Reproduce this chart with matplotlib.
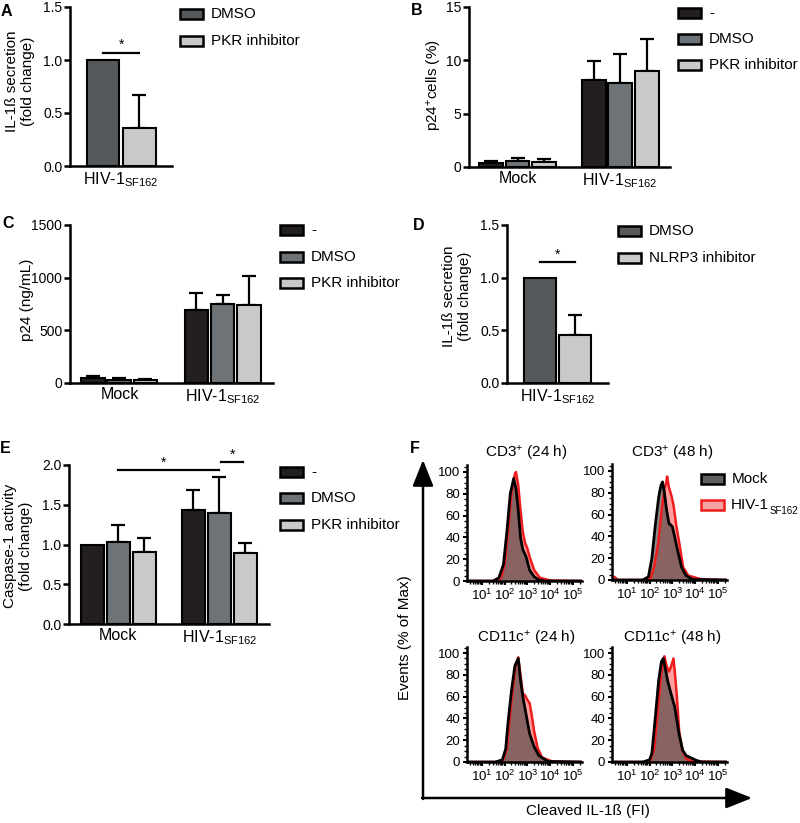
import matplotlib
matplotlib.use('Agg')
import matplotlib.pyplot as plt
from matplotlib.patches import Rectangle
import numpy as np

plt.rcParams['font.family'] = ['Liberation Sans', 'DejaVu Sans']
plt.rcParams['mathtext.default'] = 'regular'
plt.rcParams['axes.linewidth'] = 1.8

W, H = 800, 823
HIV = r'HIV-1$_{SF162}$'

# colours
C_NONE = '#231f20'
C_DMSO = '#6d7376'
C_DMSO_DARK = '#55595b'
C_INH = '#c8caca'

# A: IL-1ß secretion, PKR inhibitor
a_labels = ['DMSO', 'PKR inhibitor']
a_mean = [1.0, 0.36]
a_sd = [0.0, 0.31]

# B: p24+ cells (%)
b_labels = ['-', 'DMSO', 'PKR inhibitor']
b_groups = ['Mock', HIV]
b_mean = [[0.38, 8.15], [0.56, 7.84], [0.47, 9.03]]
b_sd = [[0.18, 1.75], [0.24, 2.76], [0.28, 2.97]]

# C: p24 (ng/mL)
c_labels = ['-', 'DMSO', 'PKR inhibitor']
c_groups = ['Mock', HIV]
c_mean = [[48, 691], [32, 748], [32, 739]]
c_sd = [[19, 165], [12, 92], [9, 276]]

# D: IL-1ß secretion, NLRP3 inhibitor
d_labels = ['DMSO', 'NLRP3 inhibitor']
d_mean = [1.0, 0.46]
d_sd = [0.0, 0.19]

# E: caspase-1 activity
e_labels = ['-', 'DMSO', 'PKR inhibitor']
e_groups = ['Mock', HIV]
e_mean = [[1.0, 1.43], [1.03, 1.39], [0.91, 0.89]]
e_sd = [[0.0, 0.25], [0.22, 0.46], [0.17, 0.13]]

# F: histograms, x = log10 fluorescence, y = % of max
f_titles = ['CD3$^{+}$ (24 h)', 'CD3$^{+}$ (48 h)', 'CD11c$^{+}$ (24 h)', 'CD11c$^{+}$ (48 h)']
f_mock_x = [
    [0.4, 1.5, 1.75, 1.95, 2.1, 2.25, 2.4, 2.5, 2.6, 2.7, 2.8, 2.95, 3.1, 3.3, 3.5, 3.8, 5.4],
    [0.3, 1.7, 1.95, 2.1, 2.25, 2.4, 2.5, 2.57, 2.65, 2.75, 2.85, 3.0, 3.1, 3.2, 3.4, 3.6, 3.9, 5.5],
    [0.4, 1.6, 1.9, 2.05, 2.15, 2.3, 2.45, 2.6, 2.7, 2.8, 2.95, 3.1, 3.3, 3.5, 3.9, 5.4],
    [0.3, 1.7, 2.0, 2.1, 2.23, 2.4, 2.52, 2.6, 2.7, 2.8, 2.95, 3.1, 3.2, 3.3, 3.45, 3.6, 3.8, 4.05, 4.3, 5.5],
]
f_mock_y = [
    [0, 0, 3, 15, 45, 80, 94, 85, 65, 40, 29, 22, 10, 4, 1, 0, 0],
    [0, 0, 3, 20, 50, 76, 87, 90, 80, 64, 52, 49, 40, 30, 12, 4, 0.5, 0],
    [0, 0, 2, 12, 36, 65, 88, 95, 75, 60, 43, 26, 14, 6, 0.5, 0],
    [0, 0, 2, 8, 36, 75, 92, 95, 85, 74, 62, 51, 38, 25, 11, 6, 4, 1.5, 0, 0],
]
f_hiv_x = [
    [0.4, 1.6, 1.85, 2.0, 2.15, 2.3, 2.45, 2.5, 2.6, 2.7, 2.8, 2.9, 3.0, 3.1, 3.3, 3.55, 4.0, 5.4],
    [0.3, 0.45, 0.6, 1.8, 2.05, 2.2, 2.38, 2.53, 2.65, 2.72, 2.77, 2.85, 2.95, 3.05, 3.18, 3.33, 3.47, 3.7, 4.3, 5.45, 5.5],
    [0.4, 1.7, 1.95, 2.1, 2.2, 2.35, 2.5, 2.6, 2.7, 2.8, 2.9, 3.0, 3.1, 3.2, 3.3, 3.45, 3.65, 4.1, 5.4],
    [0.3, 1.8, 2.05, 2.2, 2.35, 2.5, 2.6, 2.65, 2.75, 2.85, 2.95, 3.05, 3.12, 3.2, 3.3, 3.45, 3.62, 3.85, 5.5],
]
f_hiv_y = [
    [0, 0, 3, 15, 45, 80, 98, 100, 88, 65, 45, 35, 30, 22, 10, 3, 0.5, 0],
    [0, 3, 0, 0, 2, 12, 34, 64, 84, 88, 95, 85, 78, 69, 49, 31, 12, 4, 0.5, 0, 1],
    [0, 0, 2, 12, 35, 65, 90, 96, 80, 63, 61, 57, 54, 42, 28, 13, 4, 0.5, 0],
    [0, 0, 2, 12, 45, 80, 93, 97, 88, 83, 88, 95, 80, 60, 28, 10, 3, 0.5, 0],
]

fig = plt.figure(figsize=(8, 8.23), dpi=100)


def add_ax(x0, y0, x1, y1):
    return fig.add_axes([x0 / W, 1 - y1 / H, (x1 - x0) / W, (y1 - y0) / H])


def bar_panel(box, means, sds, colors, centers, groups, width, xlim, yticks, ylabels):
    ax = add_ax(*box)
    n = len(means)
    for i in range(n):
        xs = np.array(centers) + (i - (n - 1) / 2)
        m = np.array(means[i], dtype=float)
        s = np.array(sds[i], dtype=float)
        ax.bar(xs, m, width=width, color=colors[i], edgecolor='k', linewidth=1.5, zorder=2)
        keep = s > 0
        if keep.any():
            ax.errorbar(xs[keep], m[keep], yerr=[np.zeros(keep.sum()), s[keep]], fmt='none',
                        ecolor='k', elinewidth=1.6, capsize=5, capthick=1.6, zorder=1)
    ax.spines[['top', 'right']].set_visible(False)
    ax.set_xlim(*xlim)
    ax.set_ylim(yticks[0], yticks[-1])
    ax.set_yticks(yticks)
    ax.set_yticklabels(ylabels, fontsize=10)
    ax.set_xticks(centers)
    ax.set_xticklabels(groups, fontsize=11.5)
    ax.tick_params(axis='y', length=4, width=1.8, pad=1.5)
    ax.tick_params(axis='x', length=0, pad=3)
    return ax


def sig(ax, x0, x1, y, sx, sy):
    ax.plot([x0, x1], [y, y], color='k', lw=1.6, clip_on=False)
    ax.text(sx, sy, '*', ha='center', va='center', fontsize=10)


# A
ax_a = bar_panel((70, 7, 172, 166), [[v] for v in a_mean], [[v] for v in a_sd],
                 [C_DMSO_DARK, C_INH], [0], [HIV], 0.88, (-1.4, 1.39),
                 [0, 0.5, 1.0, 1.5], ['0.0', '0.5', '1.0', '1.5'])
sig(ax_a, -0.5, 0.5, 1.07, 0.0, 1.14)

# B
bar_panel((469, 7, 670, 167), b_mean, b_sd, [C_NONE, C_DMSO, C_INH], [0, 3.87], b_groups,
          0.9, (-1.83, 5.75), [0, 5, 10, 15], ['0', '5', '10', '15'])

# C
bar_panel((70, 225, 273, 383), c_mean, c_sd, [C_NONE, C_DMSO, C_INH], [0, 3.96], c_groups,
          0.92, (-1.9, 5.9), [0, 500, 1000, 1500], ['0', '500', '1000', '1500'])

# D
ax_d = bar_panel((507, 225, 608, 383), [[v] for v in d_mean], [[v] for v in d_sd],
                 [C_DMSO_DARK, C_INH], [0], [HIV], 0.91, (-1.44, 1.44),
                 [0, 0.5, 1.0, 1.5], ['0.0', '0.5', '1.0', '1.5'])
sig(ax_d, -0.5, 0.5, 1.145, 0.0, 1.22)

# E
ax_e = bar_panel((69, 465, 269, 624), e_mean, e_sd, [C_NONE, C_DMSO, C_INH], [0, 3.88], e_groups,
                 0.9, (-1.9, 5.79), [0, 0.5, 1.0, 1.5, 2.0], ['0.0', '0.5', '1.0', '1.5', '2.0'])
sig(ax_e, 0.0, 3.88, 1.94, 1.75, 2.03)
sig(ax_e, 3.93, 4.8, 2.04, 4.37, 2.13)

# F histograms
f_boxes = [(467, 465, 582, 581), (612, 464, 727, 580), (467, 647, 582, 762), (612, 647, 727, 762)]
f_title_pos = [(526, 453), (672, 453), (526, 639), (672, 639)]
minor_x = [d + np.log10(k) for d in range(0, 6) for k in range(2, 10)]
for i, box in enumerate(f_boxes):
    ax = add_ax(*box)
    ax.fill_between(f_hiv_x[i], f_hiv_y[i], color='red', alpha=0.38, lw=0)
    ax.fill_between(f_mock_x[i], f_mock_y[i], color='#3a3a3a', alpha=0.6, lw=0)
    ax.plot(f_hiv_x[i], f_hiv_y[i], color='#ee1c1c', lw=1.8)
    ax.plot(f_mock_x[i], f_mock_y[i], color='k', lw=2)
    ax.spines[['top', 'right']].set_visible(False)
    ax.set_xlim(0.35, 5.4)
    ax.set_ylim(0, (box[3] - box[1]) / 1.09)
    ax.set_yticks(range(0, 101, 20))
    ax.set_yticklabels([str(v) for v in range(0, 101, 20)], fontsize=9.5)
    ax.set_yticks(range(0, 106, 5), minor=True)
    ax.set_xticks([1, 2, 3, 4, 5])
    ax.set_xticklabels([r'$10^{%d}$' % k for k in range(1, 6)], fontsize=9.5)
    ax.set_xticks([m for m in minor_x if 0.35 < m < 5.4], minor=True)
    ax.tick_params(which='major', length=3, width=1.5, pad=2)
    ax.tick_params(which='minor', length=2, width=1.0)

# overlay for labels, legends and arrows
ov = fig.add_axes([0, 0, 1, 1], zorder=10)
ov.set_xlim(0, W)
ov.set_ylim(H, 0)
ov.axis('off')

for letter, (x, y) in zip('ABCDEF', [(6, 11), (417, 10), (8, 223), (419, 225), (5, 448), (415, 448)]):
    ov.text(x, y, letter, fontsize=11.5, fontweight='bold', ha='center', va='center')

ov.text(20, 81, 'IL-1ß secretion\n(fold change)', rotation=90, ha='center', va='center',
        fontsize=11, linespacing=1.1)
ov.text(435, 85, 'p24$^{+}$cells (%)', rotation=90, ha='center', va='center', fontsize=11)
ov.text(27, 300, 'p24 (ng/mL)', rotation=90, ha='center', va='center', fontsize=11)
ov.text(457, 296, 'IL-1ß secretion\n(fold change)', rotation=90, ha='center', va='center',
        fontsize=11, linespacing=1.1)
ov.text(18, 546, 'Caspase-1 activity\n(fold change)', rotation=90, ha='center', va='center',
        fontsize=11, linespacing=1.1)
ov.text(405, 638, 'Events (% of Max)', rotation=90, ha='center', va='center', fontsize=11)
ov.text(588, 811, 'Cleaved IL-1ß (FI)', ha='center', va='center', fontsize=11)

for t, (x, y) in zip(f_titles, f_title_pos):
    ov.text(x, y, t, ha='center', va='center', fontsize=11)


def legend(x, ys, faces, edges, labels, size=11):
    for y, fc, ec, lab in zip(ys, faces, edges, labels):
        ov.add_patch(Rectangle((x, y - 5), 23, 10, facecolor=fc, edgecolor=ec, lw=1.8))
        ov.text(x + 31, y, lab, ha='left', va='center', fontsize=size)


legend(180, [14, 41], [C_DMSO_DARK, C_INH], ['k', 'k'], a_labels)
legend(678, [13, 39, 65], [C_NONE, C_DMSO, C_INH], ['k'] * 3, b_labels)
legend(280, [230, 257, 283], [C_NONE, C_DMSO, C_INH], ['k'] * 3, c_labels)
legend(618, [231, 258], [C_DMSO_DARK, C_INH], ['k', 'k'], d_labels)
legend(280, [472, 498, 525], [C_NONE, C_DMSO, C_INH], ['k'] * 3, e_labels)

# F legend: subscript drawn smaller so it fits the right edge like the original
legend(701, [479], ['#5f5f5f'], ['k'], ['Mock'])
ov.add_patch(Rectangle((701, 500), 23, 10, facecolor='#f4a3a3', edgecolor='#ee1c1c', lw=1.8))
main = ov.text(731, 505, 'HIV-1', ha='left', va='center', fontsize=11)
fig.canvas.draw()
bb = main.get_window_extent(renderer=fig.canvas.get_renderer())
ov.text(bb.x1 + 1, 511, 'SF162', ha='left', va='center', fontsize=7)

arrow = dict(arrowstyle='-|>,head_length=1.0,head_width=0.4', lw=1.8, color='k',
             mutation_scale=16, shrinkA=0, shrinkB=0)
ov.annotate('', xy=(423, 460), xytext=(423, 799), arrowprops=arrow)
ov.annotate('', xy=(752, 798), xytext=(422, 798), arrowprops=arrow)

fig.savefig('out.png', dpi=100)
